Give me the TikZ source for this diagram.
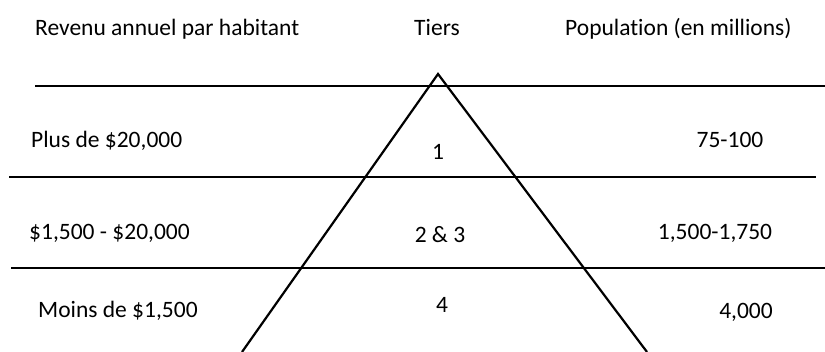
\documentclass[tikz,border=0pt]{standalone}
\usepackage{fontspec}
\setmainfont[Ligatures=NoCommon]{Carlito}
\begin{document}
\begin{tikzpicture}[x=1pt,y=-1pt,
  lbl/.style={inner sep=0pt,font=\fontsize{23.5}{28}\selectfont},
  rule/.style={line width=2.2pt},
  tri/.style={line width=2.2pt,line join=miter}]
\useasboundingbox (0,0) rectangle (825,352);
% headers
\node[lbl,anchor=base west] (h1) at (35,36) {Revenu annuel par habitant};
\node[lbl,anchor=base] (h2) at (437,36) {Tiers};
\node[lbl,anchor=base west] (h3) at (565,36) {Population (en millions)};
% horizontal rules
\coordinate (r1a) at (35,86);  \coordinate (r1b) at (825,86);
\coordinate (r2a) at (9,177);  \coordinate (r2b) at (816,177);
\coordinate (r3a) at (11,268); \coordinate (r3b) at (825,268);
\draw[rule] (r1a) -- (r1b);
\draw[rule] (r2a) -- (r2b);
\draw[rule] (r3a) -- (r3b);
% triangle
\coordinate (apex) at (438,74);
\coordinate (bl) at (242,352);
\coordinate (br) at (647,352);
\draw[tri] (bl) -- (apex) -- (br);
% row 1
\node[lbl,anchor=base west] (a1) at (31,148) {Plus de \$20,000};
\node[lbl,anchor=base] (t1) at (438,160) {1};
\node[lbl,anchor=base] (p1) at (730,148) {75-100};
% row 2
\node[lbl,anchor=base west] (a2) at (29,240) {\$1,500 - \$20,000};
\node[lbl,anchor=base] (t2) at (440,243) {2 \& 3};
\node[lbl,anchor=base] (p2) at (715,240) {1,500-1,750};
% row 3
\node[lbl,anchor=base west] (a3) at (38,318) {Moins de \$1,500};
\node[lbl,anchor=base] (t3) at (442,313) {4};
\node[lbl,anchor=base] (p3) at (746,319) {4,000};
\end{tikzpicture}
\end{document}
